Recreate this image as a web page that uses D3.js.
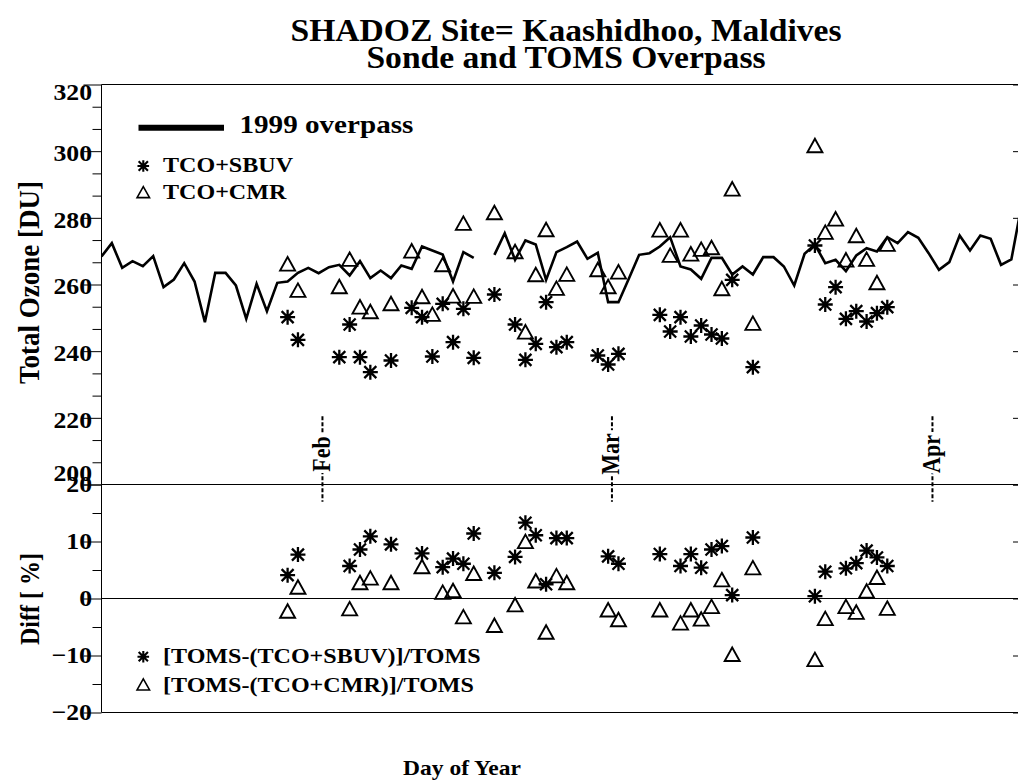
<!DOCTYPE html>
<html>
<head>
<meta charset="utf-8">
<script src="https://cdn.jsdelivr.net/npm/d3@7"></script>
<style>
  body { margin: 0; background: #fff; }
  svg { display: block; font-family: 'Liberation Serif', 'Times New Roman', serif; font-weight: bold; }
</style>
</head>
<body>
<svg id="chart" width="1018" height="780"></svg>
<script>
// TOMS overpass, one value per day of year (null = no overpass)
const overpassDays = [
  11, 12, 13, 14, 15, 16, 17, 18, 19, 20,
  21, 22, 23, 24, 25, 26, 27, 28, 29, 30,
  31, 32, 33, 34, 35, 36, 37, 38, 39, 40,
  41, 42, 43, 44, 45, 46, 47, 48, 49, 50,
  51, 52, 53, 54, 55, 56, 57, 58, 59, 60,
  61, 62, 63, 64, 65, 66, 67, 68, 69, 70,
  71, 72, 73, 74, 75, 76, 77, 78, 79, 80,
  81, 82, 83, 84, 85, 86, 87, 88, 89, 90,
  91, 92, 93, 94, 95, 96, 97, 98, 99, 100
]
const overpassOzone = [
  268.4, 272.4, 265.0, 267.0, 265.5, 268.5, 259.2, 261.5, 266.4, 260.9,
  248.7, 263.5, 263.5, 259.7, 249.7, 260.2, 252.0, 260.5, 260.9, 263.5,
  265.0, 263.4, 265.2, 265.9, 262.7, 267.0, 261.9, 264.2, 261.9, 265.7,
  264.7, 271.4, 270.2, 269.0, 260.9, 269.7, 268.0, null, 268.9, 275.4,
  267.4, 273.2, 272.0, 261.4, 269.7, 271.2, 272.9, 267.7, 269.5, 254.7,
  254.7, 261.7, 268.9, 269.4, 271.4, 274.2, 265.4, 264.5, 261.7, 268.0,
  268.0, 263.0, 265.4, 263.0, 268.2, 268.2, 265.4, 259.7, 269.2, 272.0,
  266.4, 267.4, 264.0, 268.7, 270.9, 269.9, 274.2, 272.4, 275.7, 274.0,
  269.4, 264.4, 266.7, 274.7, 270.2, 274.7, 273.7, 265.9, 267.5, 284.0
]

// sonde launches, total column ozone
const sondeDays = [29, 30, 34, 35, 36, 37, 39, 41, 42, 43, 44, 45, 46, 47, 49, 51, 52, 53, 54, 55, 56,
  59, 60, 61, 65, 66, 67, 68, 69, 70, 71, 72, 74, 80, 81, 82, 83, 84, 85, 86, 87]
const tcoSbuv = [250.2, 243.4, 238.2, 248.0, 238.2, 233.7, 237.2, 253.0, 250.2, 238.4, 254.2, 242.7, 252.7, 238.0,
  257.0, 248.0, 237.4, 242.2, 254.7, 241.2, 242.7, 238.7, 236.0, 239.2, 250.9, 245.9, 250.2, 244.4, 247.7,
  245.0, 243.8, 261.4, 235.2, 271.7, 254.0, 259.2, 249.7, 252.0, 248.9, 251.4, 253.2]
const tcoCmr = [266.0, 258.1, 259.2, 267.4, 253.1, 251.7, 254.1, 269.9, 256.2, 250.9, 265.8, 256.4, 278.2, 256.3,
  281.4, 269.7, 245.6, 262.8, 276.3, 258.7, 262.9, 264.3, 259.2, 263.6, 276.2, 268.6, 276.2, 269.0, 270.4,
  270.9, 258.6, 288.5, 248.2, 301.5, 275.5, 279.5, 267.2, 274.5, 267.4, 260.4, 271.9]

// percent differences against TOMS
const diffDays = [29, 30, 35, 36, 37, 39, 42, 44, 45, 46, 47, 49, 51, 52, 53, 54, 55, 56, 60, 61,
  65, 67, 68, 69, 70, 71, 72, 74, 80, 81, 83, 84, 85, 86, 87]
const diffSbuv = [4.1, 7.7, 5.7, 8.6, 10.9, 9.5, 7.9, 5.5, 7.0, 6.1, 11.4, 4.5, 7.3, 13.3, 11.1, 2.5, 10.6, 10.6,
  7.4, 6.1, 7.8, 5.7, 7.8, 5.4, 8.6, 9.2, 0.6, 10.7, 0.4, 4.7, 5.3, 6.2, 8.4, 7.2, 5.7]
const diffCmr = [-2.3, 1.9, -1.9, 2.7, 3.5, 2.7, 5.5, 1.0, 1.3, -3.3, 4.3, -4.8, -1.2, 9.9, 3.0, -6.0, 3.9, 2.7,
  -2.1, -3.8, -2.1, -4.4, -2.1, -3.7, -1.5, 3.2, -9.9, 5.3, -10.8, -3.6, -1.5, -2.5, 1.2, 3.6, -1.8]

const ozoneTicks = [200, 220, 240, 260, 280, 300, 320]
const diffTicks = [-20, -10, 0, 10, 20]
const monthNames = ['Feb', 'Mar', 'Apr']
const monthStartDays = [32, 60, 91]

// glyphs in the original print come out a bit wide
const sx = 1.12

const left = 101.5, right = 1031
const svg = d3.select('#chart')

const x = d3.scaleLinear().domain([11, 100.9]).range([left, right])
const yOz = d3.scaleLinear().domain([200, 320]).range([484.5, 84.5])
const yDiff = d3.scaleLinear().domain([-20, 20]).range([712.5, 484.5])

svg.append('defs').append('clipPath').attr('id', 'clipTop')
  .append('rect').attr('x', left).attr('y', 84.5).attr('width', right - left).attr('height', 400)

function addText(str, px, py, size, anchor, rotate, stretch) {
  const s = stretch || sx
  return svg.append('text').text(str)
    .attr('font-size', size)
    .attr('text-anchor', anchor || 'start')
    .attr('transform', rotate
      ? `translate(${px},${py}) rotate(-90) scale(1,${s})`
      : `translate(${px},${py}) scale(${s},1)`)
}

// y axes with major + minor ticks on both sides
function yAxes(scale, majors, minors, labelShift) {
  const gl = svg.append('g').attr('transform', `translate(${left},0)`)
    .call(d3.axisLeft(scale).tickValues(majors).tickSize(18).tickSizeOuter(0).tickFormat(d3.format('d')))
  gl.attr('font-family', null).attr('font-size', null)
  gl.select('.domain').remove()
  gl.selectAll('text')
    .attr('font-size', 23).attr('fill', '#000')
    .attr('x', -9.5 / sx).attr('transform', `scale(${sx},1)`)
    .attr('y', (d) => labelShift ? labelShift(d) : 0)
  svg.append('g').attr('transform', `translate(${left},0)`)
    .call(d3.axisLeft(scale).tickValues(minors).tickSize(9).tickSizeOuter(0).tickFormat(''))
    .select('.domain').remove()
  svg.append('g').attr('transform', `translate(${right},0)`)
    .call(d3.axisRight(scale).tickValues(majors).tickSize(-18).tickSizeOuter(0).tickFormat(''))
    .select('.domain').remove()
  svg.append('g').attr('transform', `translate(${right},0)`)
    .call(d3.axisRight(scale).tickValues(minors).tickSize(-9).tickSizeOuter(0).tickFormat(''))
    .select('.domain').remove()
}

const ozMinors = d3.range(200, 320, 20 / 3).filter((v) => Math.abs(v % 20) > 0.1 && Math.abs(v % 20 - 20) > 0.1)
yAxes(yOz, ozoneTicks, ozMinors, (d) => d === 320 ? 8 : d === 200 ? -11 : 2)
yAxes(yDiff, diffTicks, [-15, -5, 5, 15])

// frame
const frame = svg.append('g').attr('stroke', '#000').attr('stroke-width', 1).attr('fill', 'none')
frame.append('path').attr('d', `M${left},${yOz(320)}H${right}V${yDiff(-20)}H${left}Z`)
frame.append('line').attr('x1', left).attr('x2', right).attr('y1', yOz(200)).attr('y2', yOz(200))
frame.append('line').attr('x1', left).attr('x2', right).attr('y1', yDiff(0)).attr('y2', yDiff(0))

// overpass line
const overpass = overpassDays.map((d, i) => [d, overpassOzone[i]])
svg.append('path')
  .datum(overpass)
  .attr('clip-path', 'url(#clipTop)')
  .attr('fill', 'none').attr('stroke', '#000').attr('stroke-width', 2.6)
  .attr('d', d3.line().defined((d) => d[1] !== null).x((d) => x(d[0])).y((d) => yOz(d[1])))

// symbols
function starPath(r) {
  const q = r * 0.8
  return `M${-r},0H${r}M0,${-r}V${r}M${-q},${-q}L${q},${q}M${-q},${q}L${q},${-q}`
}
function triPath(w, h) {
  return `M0,${-h * 0.55}L${w / 2},${h * 0.45}L${-w / 2},${h * 0.45}Z`
}

function drawStars(days, vals, scale) {
  svg.append('g').selectAll('path').data(days).enter().append('path')
    .attr('d', starPath(7.5))
    .attr('transform', (d, i) => `translate(${x(d)},${scale(vals[i])})`)
    .attr('stroke', '#000').attr('stroke-width', 2.3).attr('fill', 'none')
}
function drawTris(days, vals, scale) {
  svg.append('g').selectAll('path').data(days).enter().append('path')
    .attr('d', triPath(15, 13.5))
    .attr('transform', (d, i) => `translate(${x(d)},${scale(vals[i])})`)
    .attr('stroke', '#000').attr('stroke-width', 1.9).attr('fill', 'none')
}
drawTris(sondeDays, tcoCmr, yOz)
drawStars(sondeDays, tcoSbuv, yOz)
drawTris(diffDays, diffCmr, yDiff)
drawStars(diffDays, diffSbuv, yDiff)

// month markers
monthStartDays.forEach((day, i) => {
  const mx = x(day + 0.37)
  svg.append('line')
    .attr('x1', mx).attr('x2', mx).attr('y1', yOz(220.5)).attr('y2', yOz(194.8))
    .attr('stroke', '#000').attr('stroke-width', 2).attr('stroke-dasharray', '4,2')
  addText(monthNames[i], mx + 7.5, 454, 22, 'middle', true)
    .attr('stroke', '#fff').attr('stroke-width', 7).attr('paint-order', 'stroke')
})

// legends
svg.append('line').attr('x1', 138.5).attr('x2', 224).attr('y1', 127.7).attr('y2', 127.7)
  .attr('stroke', '#000').attr('stroke-width', 6)
addText('1999 overpass', 239.5, 132.7, 26)

function legendStar(px, py) {
  svg.append('path').attr('d', starPath(5.8)).attr('transform', `translate(${px},${py})`)
    .attr('stroke', '#000').attr('stroke-width', 2.1).attr('fill', 'none')
}
function legendTri(px, py) {
  svg.append('path').attr('d', triPath(12.5, 11)).attr('transform', `translate(${px},${py})`)
    .attr('stroke', '#000').attr('stroke-width', 1.6).attr('fill', 'none')
}
legendStar(143.3, 166)
addText('TCO+SBUV', 163, 171.7, 21.5)
legendTri(143.3, 192.7)
addText('TCO+CMR', 163, 199.3, 21.5)

legendStar(143.3, 656.7)
addText('[TOMS-(TCO+SBUV)]/TOMS', 163, 663.3, 21.5)
legendTri(143.3, 685)
addText('[TOMS-(TCO+CMR)]/TOMS', 163, 691.7, 21.5)

// titles
addText('SHADOZ Site= Kaashidhoo, Maldives', 566, 41, 32, 'middle', false, 1.05)
addText('Sonde and TOMS Overpass', 566, 68, 32, 'middle', false, 1.05)
addText('Day of Year', 462, 775, 21, 'middle')
addText('Total Ozone [DU]', 39, 282.5, 27, 'middle', true)
addText('Diff [ %]', 39, 599, 24, 'middle', true)
</script>
</body>
</html>
